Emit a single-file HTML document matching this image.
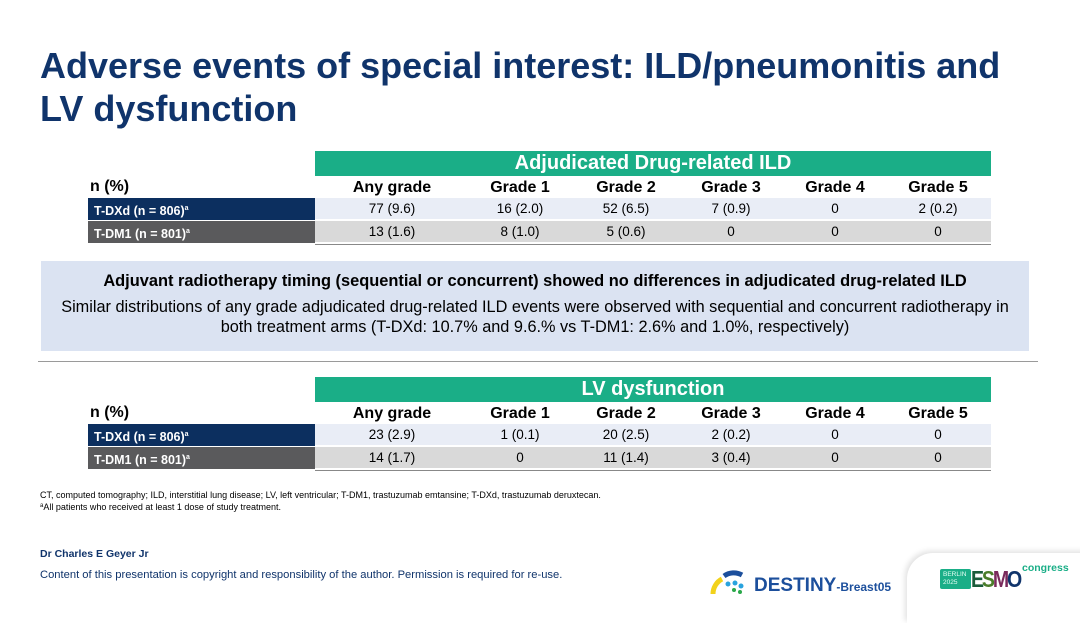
<!DOCTYPE html>
<html><head><meta charset="utf-8">
<style>
*{margin:0;padding:0;box-sizing:border-box}
body{width:1080px;height:608px;background:#fff;position:relative;overflow:hidden;font-family:"Liberation Sans",Arial,sans-serif;color:#000}
.abs{position:absolute}
.title{left:40px;top:44px;width:985px;font-size:36px;line-height:43px;font-weight:bold;color:#10346b}
.green{background:#1aae87;color:#fff;font-weight:bold;font-size:20px;text-align:center;line-height:25px}
.hdr{font-size:16px;font-weight:bold;text-align:center;width:100px;margin-left:-50px}
.lab{color:#fff;font-weight:bold;font-size:12.5px;padding-left:6px;line-height:22px}
.cell{font-size:13.5px;text-align:center;width:100px;margin-left:-50px;line-height:22px}
sup{font-size:7px;vertical-align:5px}
</style></head><body>
<div class="abs title">Adverse events of special interest: ILD/pneumonitis and LV dysfunction</div>
<div id="tables"></div>
<div class="abs" style="left:41px;top:261px;width:988px;height:90px;background:#dbe3f2;text-align:center">
<div style="font-weight:bold;font-size:16.4px;margin-top:11px;white-space:nowrap">Adjuvant radiotherapy timing (sequential or concurrent) showed no differences in adjudicated drug-related ILD</div>
<div style="font-size:16.3px;line-height:20px;margin-top:6px;white-space:nowrap">Similar distributions of any grade adjudicated drug-related ILD events were observed with sequential and concurrent radiotherapy in<br>both treatment arms (T-DXd: 10.7% and 9.6.% vs T-DM1: 2.6% and 1.0%, respectively)</div>
</div>
<div class="abs" style="left:38px;top:361px;width:1000px;height:1px;background:#9a9a9a"></div>
<div class="abs" style="left:40px;top:490px;font-size:9px;line-height:11px;white-space:nowrap">CT, computed tomography; ILD, interstitial lung disease; LV, left ventricular; T-DM1, trastuzumab emtansine; T-DXd, trastuzumab deruxtecan.<br><sup style="font-size:6px;vertical-align:3px">a</sup>All patients who received at least 1 dose of study treatment.</div>
<div class="abs" style="left:40px;top:548px;font-size:10.5px;font-weight:bold;color:#10346b">Dr Charles E Geyer Jr</div>
<div class="abs" style="left:40px;top:569px;font-size:11.2px;color:#10346b;white-space:nowrap">Content of this presentation is copyright and responsibility of the author. Permission is required for re-use.</div>
<div class="abs" style="left:710px;top:568px;width:180px;height:30px">
<svg width="40" height="26" style="position:absolute;left:0;top:2px"><path d="M3 24 A17 17 0 0 1 12 9" stroke="#f2d21b" stroke-width="5" fill="none"/><path d="M14 6 A17 17 0 0 1 32 5" stroke="#1c4f9c" stroke-width="5" fill="none"/><circle cx="18" cy="14" r="2.5" fill="#29a3de"/><circle cx="25" cy="13" r="2.5" fill="#29a3de"/><circle cx="31" cy="16" r="2.5" fill="#29a3de"/><circle cx="24" cy="20" r="2" fill="#2aa84a"/><circle cx="30" cy="22" r="2" fill="#2aa84a"/></svg>
<div style="position:absolute;left:44px;top:7px;font-weight:bold;color:#1c4f9c;font-size:19px;white-space:nowrap">DESTINY<span style="font-size:12px">-Breast05</span></div>
</div>
<div class="abs" style="left:907px;top:553px;width:200px;height:70px;border-radius:26px 0 0 0;box-shadow:-2px -2px 6px rgba(0,0,0,0.12);background:#fff">
<div style="position:absolute;left:33px;top:16px;width:31px;height:20px;background:#1aae87;color:#e6fff5;font-size:6.5px;line-height:8px;padding:2px 3px;border-radius:2px">BERLIN<br>2025</div>
<div style="position:absolute;left:64px;top:12px;font-size:23px;font-weight:bold;letter-spacing:-2.5px;line-height:28px;transform:scaleX(0.85);transform-origin:left"><span style="color:#1a5c3a">E</span><span style="color:#4a7d2a">S</span><span style="color:#7a2a5c">M</span><span style="color:#10346b">O</span></div>
<div style="position:absolute;left:115px;top:9px;font-size:10.5px;font-weight:bold;color:#1aae87">congress</div>
</div>
<script>
const columns=["Any grade","Grade 1","Grade 2","Grade 3","Grade 4","Grade 5"];
const arms=["T-DXd (n = 806)","T-DM1 (n = 801)"];
const ildTDXd=["77 (9.6)","16 (2.0)","52 (6.5)","7 (0.9)","0","2 (0.2)"];
const ildTDM1=["13 (1.6)","8 (1.0)","5 (0.6)","0","0","0"];
const lvTDXd=["23 (2.9)","1 (0.1)","20 (2.5)","2 (0.2)","0","0"];
const lvTDM1=["14 (1.7)","0","11 (1.4)","3 (0.4)","0","0"];
const colX=[392,520,626,731,835,938];
function mk(parent,cls,style,html,name){
  const d=document.createElement('div');
  d.className='abs '+cls;d.style.cssText=style;d.innerHTML=html;
  
  
  parent.appendChild(d);return d;
}
function table(top,title,rowsData,key){
  const root=document.getElementById('tables');
  mk(root,'green',`left:315px;top:${top}px;width:676px;height:25px`,title,key+'-header-band');
  mk(root,'',`left:90px;top:${top+27}px;font-size:16px;font-weight:bold`,'n (%)',key+'-n-label');
  columns.forEach((c,i)=>mk(root,'hdr',`left:${colX[i]}px;top:${top+28}px`,c,key+'-col-'+(i+1)));
  const labBg=['#0c2f5f','#5a5a5c'],rowBg=['#e9edf6','#d9d9d9'];
  rowsData.forEach((r,j)=>{
    const y=top+47+j*23;
    mk(root,'lab',`left:88px;top:${y}px;width:227px;height:22px;background:${labBg[j]}`,arms[j]+'<sup>a</sup>',key+'-row-label-'+(j+1));
    mk(root,'',`left:315px;top:${y}px;width:676px;height:22px;background:${rowBg[j]};border-bottom:1px solid #fff`,'',key+'-row-bg-'+(j+1));
    r.forEach((v,i)=>mk(root,'cell',`left:${colX[i]}px;top:${y}px`,v,key+'-cell-'+(j+1)+'-'+(i+1)));
  });
  mk(root,'',`left:315px;top:${top+93}px;width:676px;height:1px;background:#888`,'',key+'-bottom-rule');
}
table(151,'Adjudicated Drug-related ILD',[ildTDXd,ildTDM1],'ild');
table(377,'LV dysfunction',[lvTDXd,lvTDM1],'lv');
</script>
</body></html>
